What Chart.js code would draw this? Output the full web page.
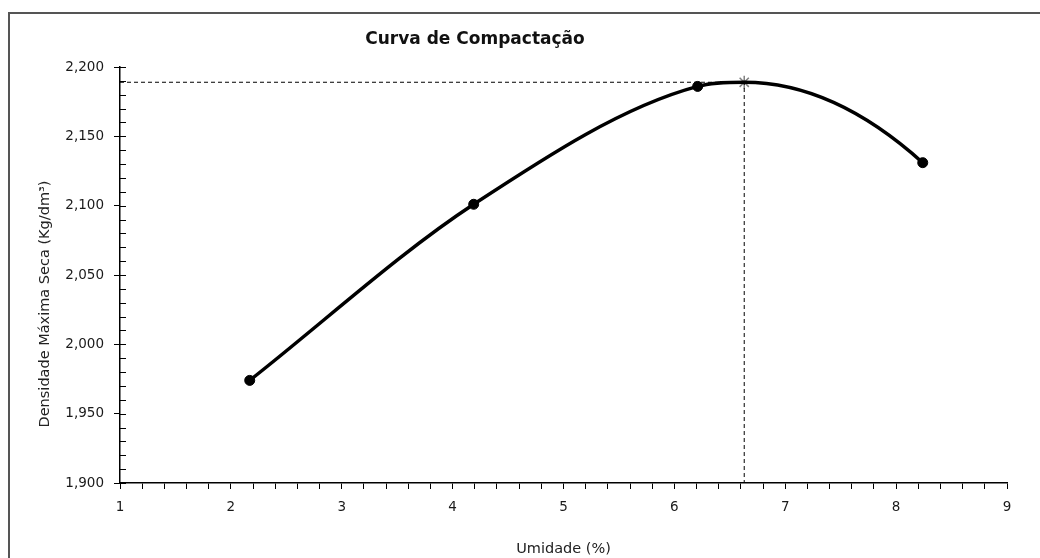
<!DOCTYPE html>
<html>
<head>
<meta charset="utf-8">
<script src="https://cdn.jsdelivr.net/npm/chart.js@4.4.1/dist/chart.umd.min.js"></script>
<style>
  html, body { margin: 0; padding: 0; background: #fff; }
  #wrap { position: relative; width: 1040px; height: 558px; overflow: hidden; }
  #frame { position: absolute; left: 8px; top: 12px; width: 1100px; height: 600px;
           border-top: 2px solid #555; border-left: 2px solid #555; }
  canvas { position: absolute; left: 0; top: 0; }
</style>
</head>
<body>
<div id="wrap">
  <div id="frame"></div>
  <canvas id="chart" width="1040" height="558"></canvas>
</div>
<script>
// textos
const chartTitle = 'Curva de Compactação';
const xTitle = 'Umidade (%)';
const yTitle = 'Densidade Máxima Seca (Kg/dm³)';

// ensaios (umidade %, densidade seca)
const moisture = [2.17, 4.19, 6.21, 8.24];
const density = [1.974, 2.101, 2.186, 2.131];

// ponto ótimo
const optMoisture = 6.63;
const maxDensity = 2.189;

// eixos
const xRange = [1, 9];
const xStep = 0.2;
const yRange = [1.9, 2.2];
const yStep = 0.01;

const FONT = '"DejaVu Sans", Verdana, sans-serif';

const testPoints = moisture.map((x, i) => ({ x: x, y: density[i] }));
const curvePoints = testPoints.concat([{ x: optMoisture, y: maxDensity }])
  .sort((a, b) => a.x - b.x);
const guidePoints = [
  { x: xRange[0], y: maxDensity },
  { x: optMoisture, y: maxDensity },
  { x: optMoisture, y: yRange[0] }
];

const isMajorY = v => Math.round(v * 1000) % 50 === 0;
const isMajorX = v => Math.abs(v - Math.round(v)) < 1e-6;

// depois do ponto ótimo a curva cai como uma parábola (tangente horizontal no topo)
const curveShapePlugin = {
  id: 'curveShape',
  beforeDatasetDraw(chart, args) {
    if (args.index !== 1) return;
    const meta = args.meta;
    meta.dataset.updateControlPoints(chart.chartArea, 'x');
    const pts = meta.data;
    const top = pts[pts.length - 2];
    const end = pts[pts.length - 1];
    const dx = end.x - top.x;
    const dy = end.y - top.y;
    top.cp2x = top.x + dx / 3;
    top.cp2y = top.y;
    end.cp1x = top.x + 2 * dx / 3;
    end.cp1y = top.y + dy / 3;
  }
};

// títulos e marcas internas do eixo y
const extrasPlugin = {
  id: 'extras',
  afterDraw(chart) {
    const { ctx, chartArea } = chart;
    const yScale = chart.scales.y;
    ctx.save();
    ctx.strokeStyle = '#000';
    ctx.lineWidth = 1;
    yScale.ticks.forEach(t => {
      const py = Math.round(yScale.getPixelForValue(t.value)) + 0.5;
      ctx.beginPath();
      ctx.moveTo(chartArea.left, py);
      ctx.lineTo(chartArea.left + 6, py);
      ctx.stroke();
    });

    ctx.fillStyle = '#111';
    ctx.textAlign = 'center';
    ctx.textBaseline = 'middle';
    ctx.font = 'bold 17px ' + FONT;
    ctx.fillText(chartTitle, chartArea.left + 355, chartArea.top - 27);

    ctx.fillStyle = '#222';
    ctx.font = '14.5px ' + FONT;
    ctx.fillText(xTitle, (chartArea.left + chartArea.right) / 2, chartArea.bottom + 66);

    ctx.translate(chartArea.left - 75, chartArea.top + 237);
    ctx.rotate(-Math.PI / 2);
    ctx.fillText(yTitle, 0, 0);
    ctx.restore();
  }
};

new Chart(document.getElementById('chart'), {
  type: 'line',
  data: {
    datasets: [
      {
        data: guidePoints,
        borderColor: '#000',
        borderWidth: 1,
        borderDash: [4, 3],
        pointRadius: 0,
        tension: 0
      },
      {
        data: curvePoints,
        borderColor: '#000',
        borderWidth: 3.5,
        pointRadius: 0,
        cubicInterpolationMode: 'monotone'
      },
      {
        data: testPoints,
        showLine: false,
        pointRadius: 5,
        pointBackgroundColor: '#000',
        pointBorderColor: '#000',
        pointBorderWidth: 1
      },
      {
        data: [{ x: optMoisture, y: maxDensity }],
        showLine: false,
        pointStyle: 'star',
        pointRadius: 6.5,
        pointBorderColor: '#808080',
        pointBorderWidth: 1.5
      }
    ]
  },
  options: {
    responsive: false,
    animation: false,
    layout: { padding: { top: 67, right: 33, left: 0, bottom: 0 } },
    plugins: {
      legend: { display: false },
      title: { display: false },
      tooltip: { enabled: false }
    },
    scales: {
      x: {
        type: 'linear',
        min: xRange[0],
        max: xRange[1],
        afterFit: scale => { scale.height = 75; },
        border: { color: '#000', width: 1.5 },
        grid: { drawOnChartArea: false, drawTicks: true, tickLength: 6, tickColor: '#000', tickWidth: 1 },
        ticks: {
          stepSize: xStep,
          autoSkip: false,
          maxRotation: 0,
          padding: 10,
          color: '#1a1a1a',
          font: { family: FONT, size: 13.5 },
          callback: v => isMajorX(v) ? String(Math.round(v)) : ''
        }
      },
      y: {
        type: 'linear',
        min: yRange[0],
        max: yRange[1],
        afterFit: scale => { scale.width = 120; },
        border: { color: '#000', width: 1.5 },
        grid: {
          drawOnChartArea: false,
          drawTicks: true,
          tickLength: 6,
          tickWidth: 1,
          tickColor: c => (c.tick && isMajorY(c.tick.value)) ? '#000' : 'rgba(0,0,0,0)'
        },
        ticks: {
          stepSize: yStep,
          autoSkip: false,
          padding: 10,
          color: '#1a1a1a',
          font: { family: FONT, size: 13.5 },
          callback: v => isMajorY(v) ? v.toFixed(3).replace('.', ',') : ''
        }
      }
    }
  },
  plugins: [curveShapePlugin, extrasPlugin]
});
</script>
</body>
</html>
